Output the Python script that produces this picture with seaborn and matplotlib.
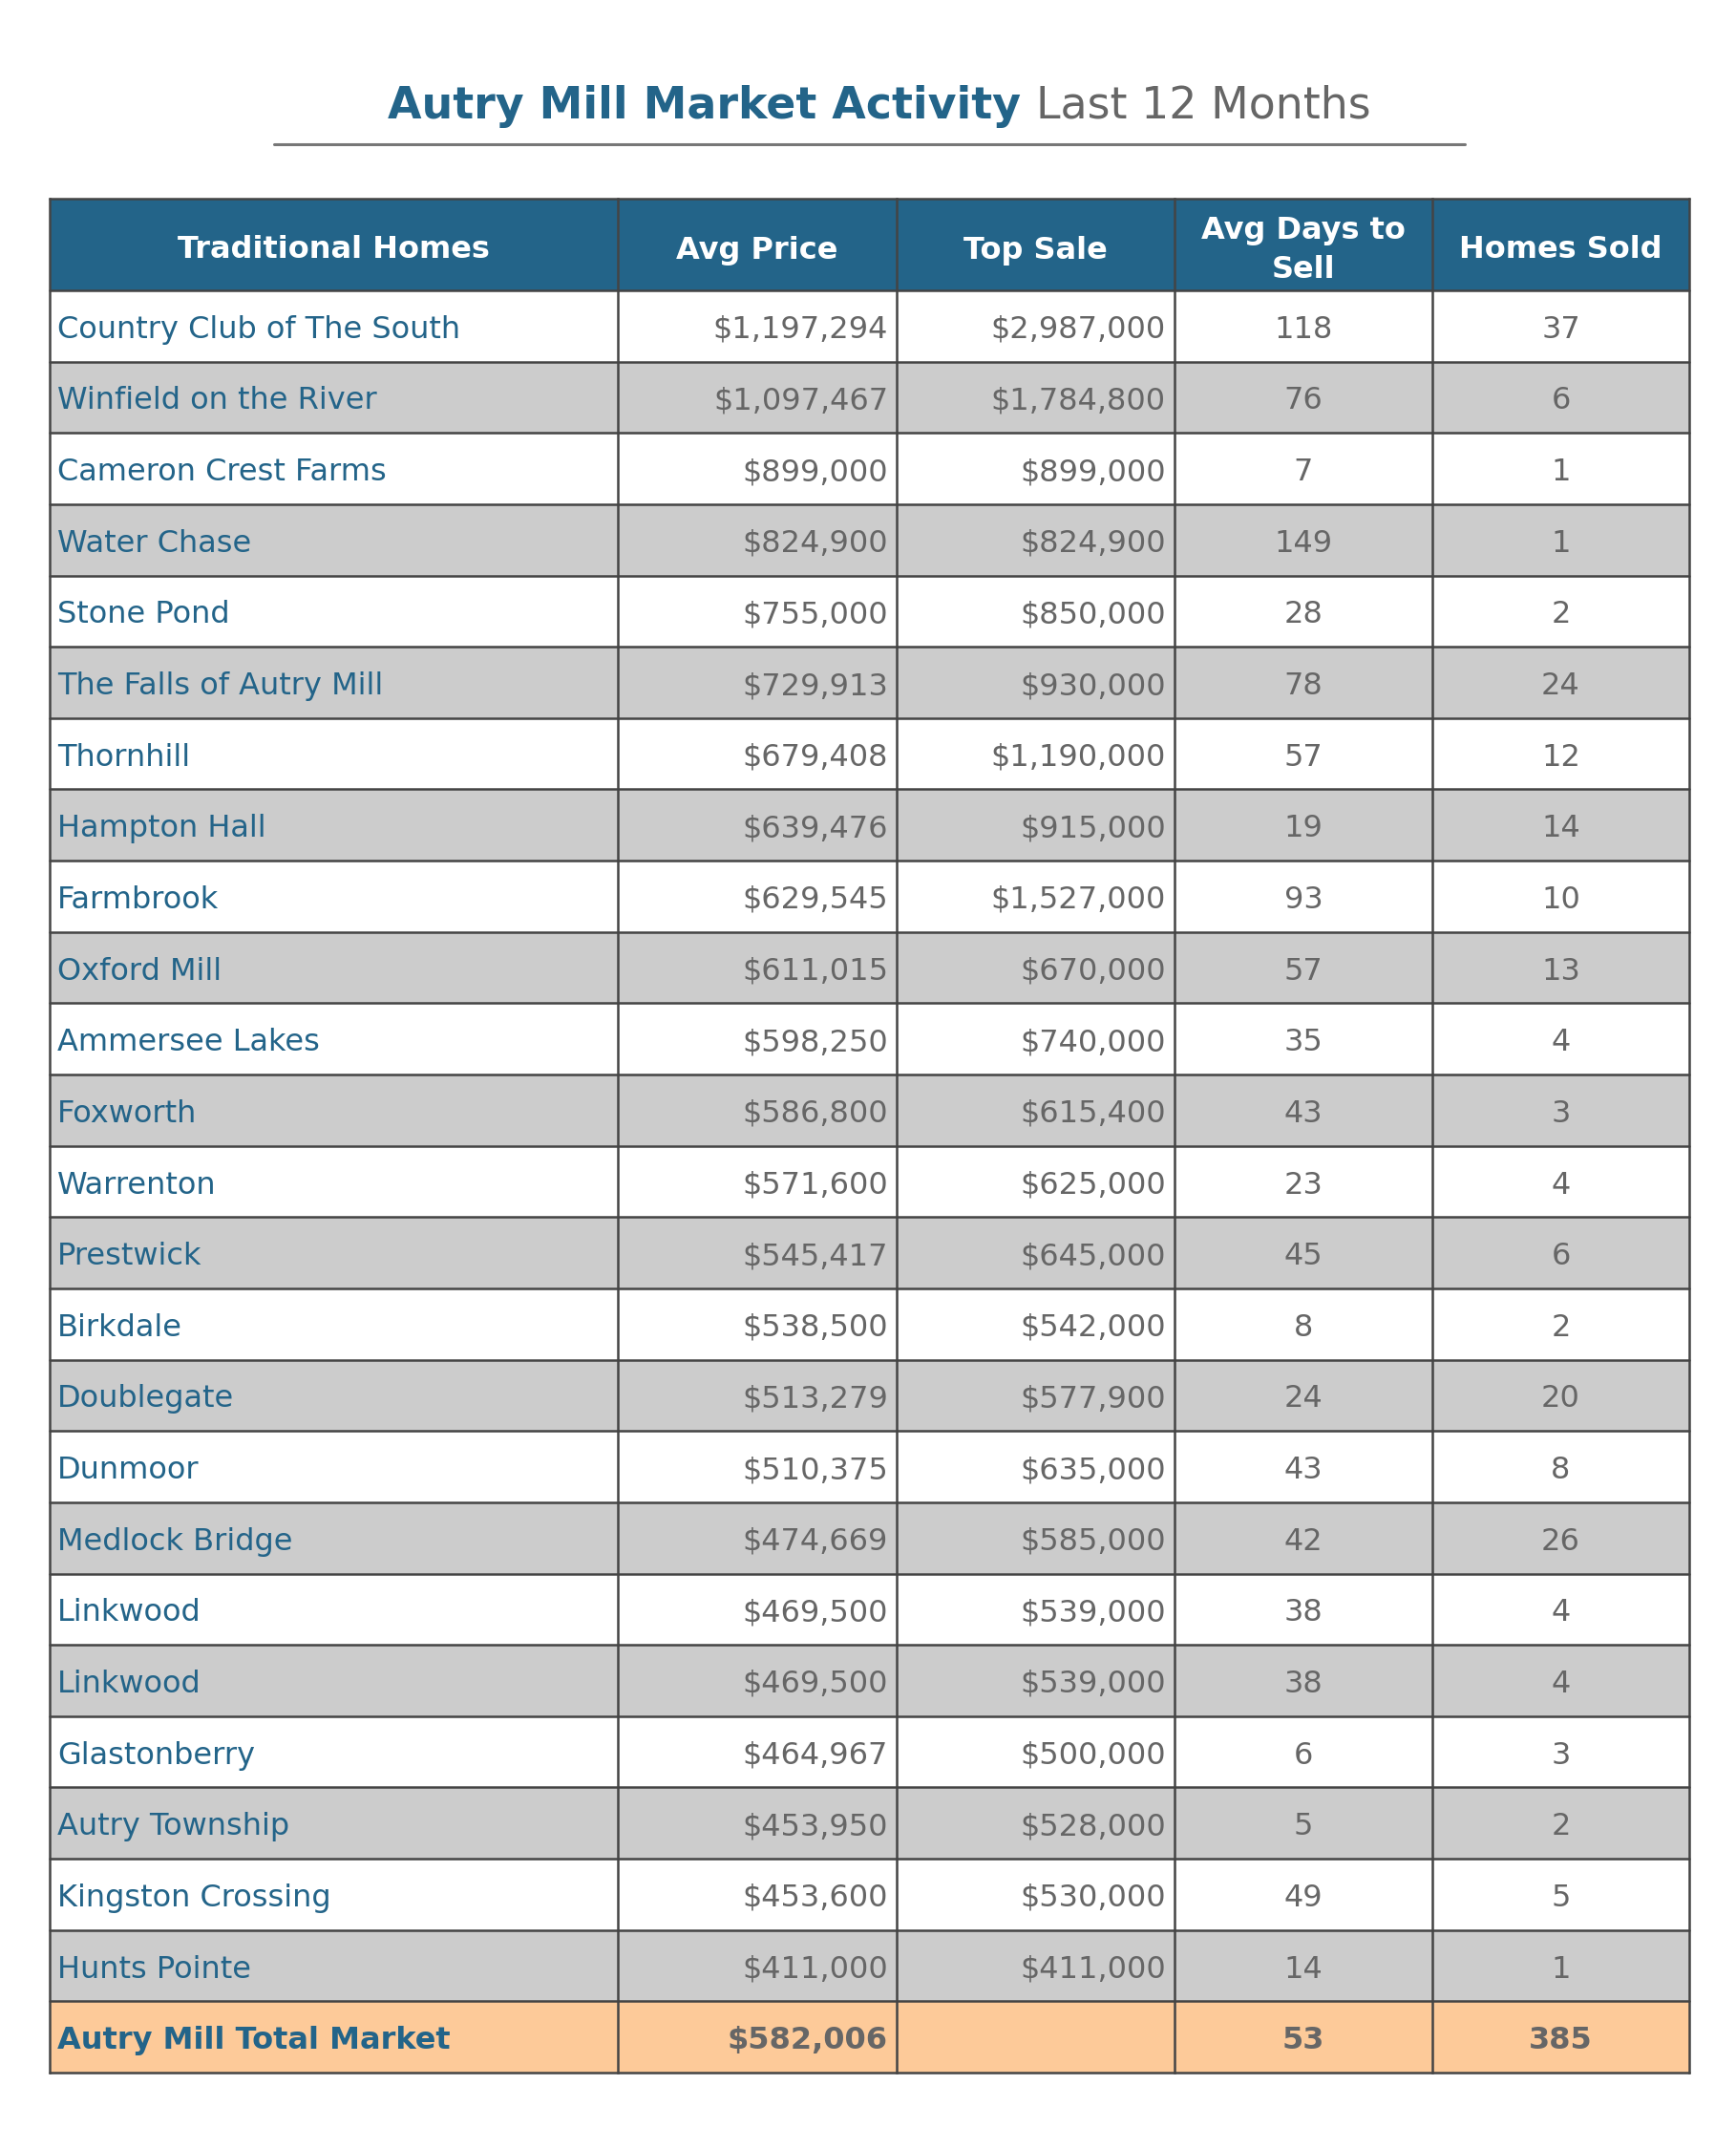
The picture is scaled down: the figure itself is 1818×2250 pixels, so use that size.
import matplotlib

matplotlib.use("Agg")
import matplotlib.pyplot as plt
import seaborn as sns
from matplotlib.patches import Rectangle

headers = ["Traditional Homes", "Avg Price", "Top Sale", "Avg Days to\nSell", "Homes Sold"]
communities = [
    "Country Club of The South", "Winfield on the River", "Cameron Crest Farms",
    "Water Chase", "Stone Pond", "The Falls of Autry Mill", "Thornhill",
    "Hampton Hall", "Farmbrook", "Oxford Mill", "Ammersee Lakes", "Foxworth",
    "Warrenton", "Prestwick", "Birkdale", "Doublegate", "Dunmoor",
    "Medlock Bridge", "Linkwood", "Linkwood", "Glastonberry", "Autry Township",
    "Kingston Crossing", "Hunts Pointe",
]
avg_price = [1197294, 1097467, 899000, 824900, 755000, 729913, 679408, 639476,
             629545, 611015, 598250, 586800, 571600, 545417, 538500, 513279,
             510375, 474669, 469500, 469500, 464967, 453950, 453600, 411000]
top_sale = [2987000, 1784800, 899000, 824900, 850000, 930000, 1190000, 915000,
            1527000, 670000, 740000, 615400, 625000, 645000, 542000, 577900,
            635000, 585000, 539000, 539000, 500000, 528000, 530000, 411000]
avg_days = [118, 76, 7, 149, 28, 78, 57, 19, 93, 57, 35, 43, 23, 45, 8, 24,
            43, 42, 38, 38, 6, 5, 49, 14]
homes_sold = [37, 6, 1, 1, 2, 24, 12, 14, 10, 13, 4, 3, 4, 6, 2, 20, 8, 26,
              4, 4, 3, 2, 5, 1]
total_label = "Autry Mill Total Market"
total_avg_price = 582006
total_days = 53
total_sold = 385

BLUE = "#236489"
GREY_TEXT = "#666666"
ROW_GREY = "#cccccc"
ORANGE = "#fdca99"
BORDER = "#444444"

sns.set_theme(style="white")
plt.rcParams["font.family"] = ["DejaVu Sans"]

W, H = 1818, 2250
fig = plt.figure(figsize=(W / 100, H / 100), dpi=100)
ax = fig.add_axes([0, 0, 1, 1])
ax.set_xlim(0, W)
ax.set_ylim(H, 0)
ax.axis("off")

col_edges = [52, 647, 939, 1230, 1500, 1769]
header_top, header_bot = 208, 304
row_h = (2170 - header_bot) / (len(communities) + 1)
FS = 23

# title, two colours side by side, centred together
t1 = ax.text(0, 111, "Autry Mill Market Activity ", color=BLUE, fontsize=33,
             fontweight="bold", va="center", ha="left")
t2 = ax.text(0, 111, "Last 12 Months", color=GREY_TEXT, fontsize=33,
             va="center", ha="left")
fig.canvas.draw()
inv = ax.transData.inverted()
bb1 = t1.get_window_extent()
bb2 = t2.get_window_extent()
w1 = inv.transform((bb1.x1, 0))[0] - inv.transform((bb1.x0, 0))[0]
w2 = inv.transform((bb2.x1, 0))[0] - inv.transform((bb2.x0, 0))[0]
x0 = 921 - (w1 + w2) / 2
t1.set_x(x0)
t2.set_x(x0 + w1)
ax.plot([287, 1534], [151, 151], color="#777777", lw=2.2)

# header
ax.add_patch(Rectangle((col_edges[0], header_top), col_edges[-1] - col_edges[0],
                       header_bot - header_top, facecolor=BLUE, edgecolor="none"))
for j, h in enumerate(headers):
    cx = (col_edges[j] + col_edges[j + 1]) / 2
    ax.text(cx, (header_top + header_bot) / 2 + 6, h, color="white", fontsize=FS,
            fontweight="bold", ha="center", va="center", linespacing=1.45)


def fmt_money(v):
    return "${:,}".format(v)


rows = []
for i in range(len(communities)):
    rows.append((communities[i], fmt_money(avg_price[i]), fmt_money(top_sale[i]),
                 str(avg_days[i]), str(homes_sold[i]), False))
rows.append((total_label, fmt_money(total_avg_price), "", str(total_days),
             str(total_sold), True))

for i, row in enumerate(rows):
    top = header_bot + i * row_h
    is_total = row[5]
    if is_total:
        fc = ORANGE
    else:
        fc = ROW_GREY if i % 2 == 1 else "white"
    ax.add_patch(Rectangle((col_edges[0], top), col_edges[-1] - col_edges[0], row_h,
                           facecolor=fc, edgecolor="none"))
    cy = top + row_h / 2 + 4
    weight = "bold" if is_total else "normal"
    ax.text(col_edges[0] + 8, cy, row[0], color=BLUE, fontsize=FS, fontweight=weight,
            ha="left", va="center")
    for j in (1, 2):
        ax.text(col_edges[j + 1] - 9, cy, row[j], color=GREY_TEXT, fontsize=FS,
                fontweight=weight, ha="right", va="center")
    for j in (3, 4):
        ax.text((col_edges[j] + col_edges[j + 1]) / 2, cy, row[j], color=GREY_TEXT,
                fontsize=FS, fontweight=weight, ha="center", va="center")

# grid lines
bottom = header_bot + len(rows) * row_h
for x in col_edges:
    ax.plot([x, x], [header_top, bottom], color=BORDER, lw=1.8, solid_capstyle="projecting")
ax.plot([col_edges[0], col_edges[-1]], [header_top, header_top], color=BORDER, lw=1.8)
for i in range(len(rows) + 1):
    y = header_bot + i * row_h
    ax.plot([col_edges[0], col_edges[-1]], [y, y], color=BORDER, lw=1.8)

fig.savefig("out.png", dpi=100, facecolor="white")
